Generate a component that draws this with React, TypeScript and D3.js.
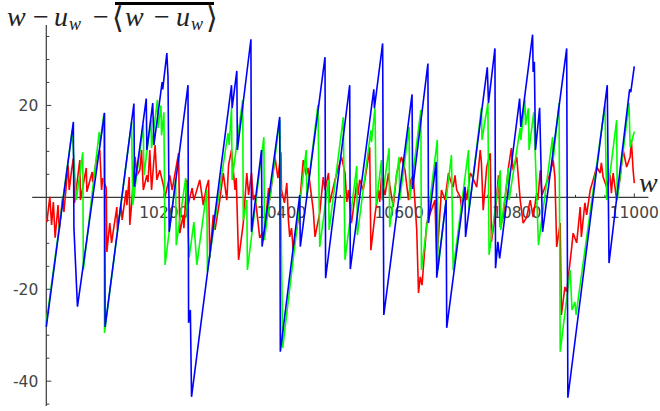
import React from "react";
import * as d3 from "d3";

// Axis ticks
const xMajorTicks = [10200, 10400, 10600, 10800, 11000];
const xTickLabels = ["10200", "10400", "10600", "10800", "11000"];
const yMajorTicks = [-40, -20, 20];
const yTickLabels = ["-40", "-20", "20"];

// Series vertices as [w, value]
const redSeries: [number, number][] = [
  [10001, -5.4], [10006, 0.1], [10009, -6.0], [10012, -1.0], [10015, -8.8], [10020, -1.7],
  [10022, -7.1], [10028, 0.3], [10030, -3.2], [10037, 7.0], [10039, 1.6], [10043, 5.9],
  [10046, 8.5], [10048, -1.2], [10057, 8.1], [10058, -0.6], [10068, 6.4], [10069, 1.2],
  [10078, 5.5], [10079, 3.3], [10086, 8.8], [10088, 9.2], [10091, 10.3], [10094, 1.6],
  [10096, 4.2], [10102, 2.0], [10103, -11.9], [10108, -5.6], [10111, -9.9], [10120, -2.1],
  [10121, -7.1], [10127, -1.7], [10129, -4.9], [10136, 1.6], [10137, -1.7], [10141, 4.4],
  [10142, -6.0], [10144, -3.2], [10151, 8.8], [10154, 4.8], [10159, 5.9], [10162, 10.3],
  [10165, 1.6], [10171, 4.8], [10173, 3.3], [10176, 10.3], [10179, 1.6], [10185, 11.4],
  [10188, 3.8], [10193, 5.9], [10199, 2.7], [10202, 0.1], [10210, 4.8], [10214, 1.6],
  [10225, 9.6], [10227, -7.8], [10233, -3.8], [10234, -6.7], [10239, 3.8], [10241, -1.7],
  [10248, 2.0], [10251, -0.6], [10261, 3.8], [10267, -1.7], [10272, 2.0], [10276, 3.8],
  [10278, -13.2], [10284, -3.8], [10287, -7.1], [10295, -0.6], [10301, 5.3], [10307, -0.6],
  [10310, 7.0], [10315, 10.3], [10321, 1.6], [10323, 4.2], [10327, -13.6], [10335, -5.6],
  [10341, 5.3], [10344, 0.5], [10349, 5.3], [10352, -0.6], [10355, 0.5], [10363, -8.8],
  [10369, -7.5], [10370, -9.3], [10378, 2.0], [10380, -0.6], [10389, 8.8], [10392, 5.9],
  [10394, 4.2], [10399, 9.8], [10400, 1.6], [10405, -1.2], [10409, 3.1], [10412, -5.4],
  [10414, -8.6], [10417, -6.7], [10420, -11.5], [10429, -4.3], [10437, 8.1], [10442, 4.8],
  [10445, 6.4], [10454, -2.8], [10457, -8.6], [10465, -3.4], [10471, 4.4], [10474, 1.6],
  [10480, 5.3], [10482, -1.2], [10491, 3.8], [10502, 8.8], [10505, 7.0], [10508, 5.3],
  [10511, -1.0], [10514, 1.6], [10519, -5.6], [10528, 3.1], [10530, 0.5], [10533, 3.8],
  [10539, 1.6], [10548, 8.8], [10550, 10.9], [10552, -11.5], [10559, -3.8], [10565, 1.6],
  [10567, -1.0], [10570, 4.4], [10576, 0.5], [10582, 5.3], [10584, 2.7], [10590, -2.1],
  [10596, 5.3], [10604, 8.8], [10610, 5.9], [10616, -0.6], [10620, 3.8], [10624, 4.8],
  [10630, -7.1], [10633, -20.8], [10636, -17.3], [10639, -19.1], [10647, -5.6], [10652, -3.8],
  [10661, -0.6], [10664, -14.3], [10672, 1.6], [10678, -0.6], [10684, 5.3], [10687, 3.8],
  [10692, 2.2], [10695, 4.8], [10698, 1.6], [10704, 0.1], [10706, -2.1], [10712, 2.2],
  [10715, -0.6], [10721, 5.3], [10724, 4.6], [10732, 2.2], [10738, 10.3], [10740, 7.5],
  [10743, -2.8], [10749, 6.6], [10755, 9.6], [10757, -9.7], [10763, -4.3], [10766, 0.1],
  [10769, 4.8], [10772, -6.5], [10777, -4.3], [10786, 6.6], [10791, 10.7], [10794, 5.9],
  [10800, 8.8], [10806, -0.6], [10811, -5.6], [10817, -4.3], [10823, -0.6], [10828, -4.3],
  [10834, 0.9], [10836, -0.6], [10840, 5.9], [10843, 0.5], [10857, 5.3], [10862, 8.1],
  [10865, 4.4], [10868, -10.8], [10874, -5.6], [10876, -25.6], [10882, -19.5], [10885, -20.6],
  [10893, -11.5], [10896, -7.8], [10902, -9.9], [10908, -2.1], [10910, -8.6], [10916, -1.2],
  [10919, -3.8], [10925, 1.6], [10930, 3.8], [10936, 6.6], [10942, 5.3], [10944, 7.5],
  [10947, 4.4], [10953, 2.2], [10959, 4.8], [10961, 0.9], [10964, 5.3], [10970, -0.6],
  [10976, 4.4], [10981, 10.3], [10987, 6.6], [10993, 8.8], [10995, 12.5], [10998, 5.9],
  [11000, 3.1],
];

const greenSeries: [number, number][] = [
  [10000, -27.3], [10044, 14.6], [10051, -0.6], [10062, 9.8], [10063, -15.8], [10090, 14.2],
  [10091, 11.4], [10098, 18.3], [10099, -29.5], [10145, 16.4], [10147, -1.7], [10165, 15.7],
  [10166, 4.8], [10178, 16.8], [10179, 10.7], [10189, 21.2], [10190, 15.1], [10195, 20.0],
  [10196, 13.5], [10200, 18.5], [10202, -14.7], [10220, 3.8], [10221, -10.4], [10237, 4.2],
  [10243, -13.0], [10251, -5.4], [10256, -14.7], [10273, 1.6], [10274, -16.2], [10309, 14.0],
  [10311, 11.4], [10315, 19.4], [10316, 3.8], [10334, 21.2], [10335, -4.9], [10341, -0.6],
  [10342, -15.8], [10370, 13.1], [10371, -9.3], [10397, 16.8], [10402, -32.8], [10442, 10.3],
  [10443, 0.1], [10462, 20.1], [10465, -10.8], [10480, 3.8], [10481, -7.1], [10505, 17.4],
  [10508, -13.6], [10528, 6.8], [10529, -8.2], [10552, 14.6], [10553, 12.0], [10559, 19.4],
  [10561, -1.7], [10570, 8.1], [10571, -0.6], [10583, 10.7], [10584, -6.5], [10600, 8.8],
  [10601, -0.6], [10617, 15.3], [10618, -0.6], [10637, 19.0], [10638, -15.8], [10665, 12.5],
  [10666, -15.8], [10689, 9.2], [10692, -15.8], [10718, 10.3], [10719, -2.8], [10740, 19.4],
  [10741, 12.5], [10751, 20.5], [10753, -12.5], [10772, 5.9], [10773, -7.1], [10786, 6.4],
  [10787, -0.6], [10806, 15.1], [10807, 12.5], [10814, 21.2], [10815, 15.7], [10820, 19.4],
  [10821, 10.3], [10829, 18.5], [10837, -10.4], [10861, 13.1], [10862, 8.1], [10872, 20.5],
  [10874, -33.6], [10891, -15.8], [10894, -24.5], [10899, -22.8], [10901, -25.6], [10905, -21.7],
  [10950, 20.0], [10953, -0.6], [10970, 16.8], [10971, -0.6], [10991, 20.5], [10993, 10.9],
  [11000, 14.3],
];

const blueSeries: [number, number][] = [
  [10000, -28.2], [10046, 16.4], [10047, -6.7], [10053, -23.8], [10099, 18.4], [10100, -28.2],
  [10149, 20.4], [10150, 2.3], [10170, 21.5], [10171, 10.3], [10181, 20.5], [10183, 11.4],
  [10197, 25.1], [10198, 23.5], [10205, 31.4], [10207, 26.2], [10209, -7.5], [10241, 24.4],
  [10242, -27.3], [10245, -24.5], [10247, -43.4], [10315, 24.4], [10316, 19.4], [10324, 27.5],
  [10325, 10.3], [10348, 34.4], [10349, -7.5], [10366, 10.3], [10367, -10.7], [10397, 17.5],
  [10398, -33.6], [10431, 0.5], [10432, -10.7], [10474, 30.5], [10475, -17.6], [10516, 24.4],
  [10517, -15.6], [10557, 23.5], [10558, 19.4], [10572, 33.5], [10574, -25.6], [10622, 22.4],
  [10623, 1.8], [10649, 29.1], [10650, -5.6], [10663, 7.7], [10664, -17.5], [10680, -0.6],
  [10681, -28.4], [10712, 2.3], [10713, -8.6], [10750, 28.3], [10752, 20.5], [10763, 32.4],
  [10764, -15.4], [10768, -9.7], [10771, -13.3], [10805, 21.5], [10807, 15.3], [10827, 35.4],
  [10828, 27.3], [10830, 29.5], [10832, 10.3], [10839, 19.5], [10844, -7.5], [10885, 32.4],
  [10887, -43.6], [10954, 24.4], [10957, -14.3], [10992, 23.5], [10994, 22.9], [11000, 28.5],
];

const seriesList = [
  { name: "red", color: "#ff0000", data: redSeries },
  { name: "green", color: "#00ff00", data: greenSeries },
  { name: "blue", color: "#0000ff", data: blueSeries },
];

const W = 660;
const H = 411;

export default function App() {
  const x = d3.scaleLinear().domain([10000, 11000]).range([46.3, 634.3]);
  const y = d3.scaleLinear().domain([-45.4, 37.5]).range([406, 25]);

  const line = d3
    .line<[number, number]>()
    .x((d) => x(d[0]))
    .y((d) => y(d[1]));

  const axisColor = "#3a3a3a";
  const tickFont = "'DejaVu Sans', sans-serif";
  const mathFont = "'Liberation Serif', 'Times New Roman', serif";
  const bracketFont = "'DejaVu Serif', serif";

  const xMinor = d3.range(10050, 11001, 50).filter((v) => !xMajorTicks.includes(v));
  const yMinor = d3.range(-45, 36, 5).filter((v) => v !== 0 && !yMajorTicks.includes(v));

  const y0 = y(0);
  const x0 = x(10000);

  return (
    <svg
      width={W}
      height={H}
      viewBox={`0 0 ${W} ${H}`}
      style={{ position: "absolute", left: 0, top: 0, background: "#fff" }}
    >
      {/* axes */}
      <line x1={x(9976)} x2={x(11024)} y1={y0} y2={y0} stroke={axisColor} strokeWidth={1.2} />
      <line x1={x0} x2={x0} y1={y(37.5)} y2={y(-45.4)} stroke={axisColor} strokeWidth={1.2} />

      {/* x ticks */}
      {xMinor.map((v) => (
        <line key={"xm" + v} x1={x(v)} x2={x(v)} y1={y0} y2={y0 - 2.5} stroke={axisColor} strokeWidth={1} />
      ))}
      {xMajorTicks.map((v, i) => (
        <g key={"xM" + v}>
          <line x1={x(v)} x2={x(v)} y1={y0} y2={y0 - 4} stroke={axisColor} strokeWidth={1} />
          <text
            x={x(v)}
            y={y0 + 20.5}
            textAnchor="middle"
            fontFamily={tickFont}
            fontSize={15.5}
            fill="#444"
          >
            {xTickLabels[i]}
          </text>
        </g>
      ))}

      {/* y ticks */}
      {yMinor.map((v) => (
        <line key={"ym" + v} x1={x0} x2={x0 + 3} y1={y(v)} y2={y(v)} stroke={axisColor} strokeWidth={1} />
      ))}
      {yMajorTicks.map((v, i) => (
        <g key={"yM" + v}>
          <line x1={x0} x2={x0 + 5} y1={y(v)} y2={y(v)} stroke={axisColor} strokeWidth={1} />
          <text
            x={x0 - 8}
            y={y(v) + 5.5}
            textAnchor="end"
            fontFamily={tickFont}
            fontSize={15.5}
            fill="#444"
          >
            {yTickLabels[i]}
          </text>
        </g>
      ))}

      {/* series */}
      {seriesList.map((s) => (
        <path
          key={s.name}
          d={line(s.data) || ""}
          fill="none"
          stroke={s.color}
          strokeWidth={1.6}
          strokeLinejoin="miter"
          strokeMiterlimit={2}
        />
      ))}

      {/* axis labels */}
      <text x={639} y={192} fontFamily={mathFont} fontStyle="italic" fontSize={28} fill="#222">
        w
      </text>

      <g fill="#222" fontFamily={mathFont}>
        <text y={26} fontSize={28}>
          <tspan x={7} fontStyle="italic">w</tspan>
          <tspan x={33}>−</tspan>
          <tspan x={54} fontStyle="italic">u</tspan>
          <tspan x={69} dy={4} fontSize={18} fontStyle="italic">w</tspan>
          <tspan x={93} dy={-4}>−</tspan>
          <tspan x={112} dy={2} fontFamily={bracketFont} fontSize={30}>⟨</tspan>
          <tspan x={125} dy={-2} fontStyle="italic">w</tspan>
          <tspan x={154}>−</tspan>
          <tspan x={176} fontStyle="italic">u</tspan>
          <tspan x={191} dy={4} fontSize={18} fontStyle="italic">w</tspan>
          <tspan x={206} dy={-2} fontFamily={bracketFont} fontSize={30}>⟩</tspan>
        </text>
        <line x1={115} x2={214} y1={3.5} y2={3.5} stroke="#000" strokeWidth={3} />
      </g>
    </svg>
  );
}
